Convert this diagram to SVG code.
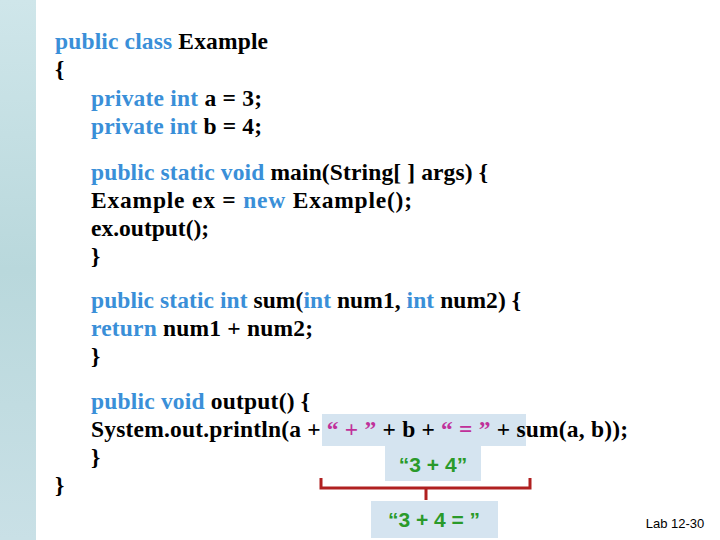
<svg xmlns="http://www.w3.org/2000/svg" width="720" height="540" viewBox="0 0 720 540">
<defs>
<linearGradient id="strip" x1="0" y1="0" x2="0" y2="1">
<stop offset="0" stop-color="#cfe6ea"/><stop offset="0.5" stop-color="#b9d8dc"/><stop offset="1" stop-color="#c9e0e6"/>
</linearGradient>
<style>
.c{font-family:"Liberation Serif",serif;font-weight:bold;font-size:23.5px;fill:#000}
.k{fill:#3a8fd8}
.m{fill:#c0309a}
.g{font-family:"Liberation Sans",sans-serif;font-weight:bold;font-size:21px;fill:#2a9a2a}
.hl{fill:#d5e4f0}
</style>
</defs>
<rect width="720" height="540" fill="#fff"/>
<rect x="0" y="0" width="36" height="540" fill="url(#strip)"/>
<g id="highlights">
<rect class="hl" x="322" y="414" width="204" height="32"/>
<rect class="hl" x="385" y="446" width="96" height="35"/>
<rect class="hl" x="371" y="501" width="127" height="37"/>
</g>
<g id="code">
<text class="c" x="55" y="49" textLength="213"><tspan class="k">public class</tspan> Example</text>
<text class="c" x="55" y="77">{</text>
<text class="c" x="91" y="106" textLength="171"><tspan class="k">private int</tspan> a = 3;</text>
<text class="c" x="91" y="134" textLength="171"><tspan class="k">private int</tspan> b = 4;</text>
<text class="c" x="91" y="180" textLength="397"><tspan class="k">public static void</tspan> main(String[ ] args) {</text>
<text class="c" x="91" y="208" textLength="321">Example ex = <tspan class="k">new</tspan> Example();</text>
<text class="c" x="91" y="236">ex.output();</text>
<text class="c" x="91" y="264">}</text>
<text class="c" x="91" y="308" textLength="430"><tspan class="k">public static int</tspan> sum(<tspan class="k">int</tspan> num1, <tspan class="k">int</tspan> num2) {</text>
<text class="c" x="91" y="336" textLength="222"><tspan class="k">return</tspan> num1 + num2;</text>
<text class="c" x="91" y="364">}</text>
<text class="c" x="91" y="409" textLength="219"><tspan class="k">public void</tspan> output() {</text>
<text class="c" x="91" y="437" textLength="537">System.out.println(a + <tspan class="m">“ + ”</tspan> + b + <tspan class="m">“ = ”</tspan> + sum(a, b));</text>
<text class="c" x="91" y="465">}</text>
<text class="c" x="55" y="493">}</text>
</g>
<g id="connectors">
<path d="M321,478 V488 H530 V478 M426,488 V500" fill="none" stroke="#b02020" stroke-width="3"/>
</g>
<g id="labels">
<text class="g" x="433" y="472" text-anchor="middle">“3 + 4”</text>
<text class="g" x="434" y="527" text-anchor="middle">“3 + 4 = ”</text>
<text x="675" y="528" text-anchor="middle" font-family="Liberation Sans,sans-serif" font-size="13" fill="#000">Lab 12-30</text>
</g>
</svg>
